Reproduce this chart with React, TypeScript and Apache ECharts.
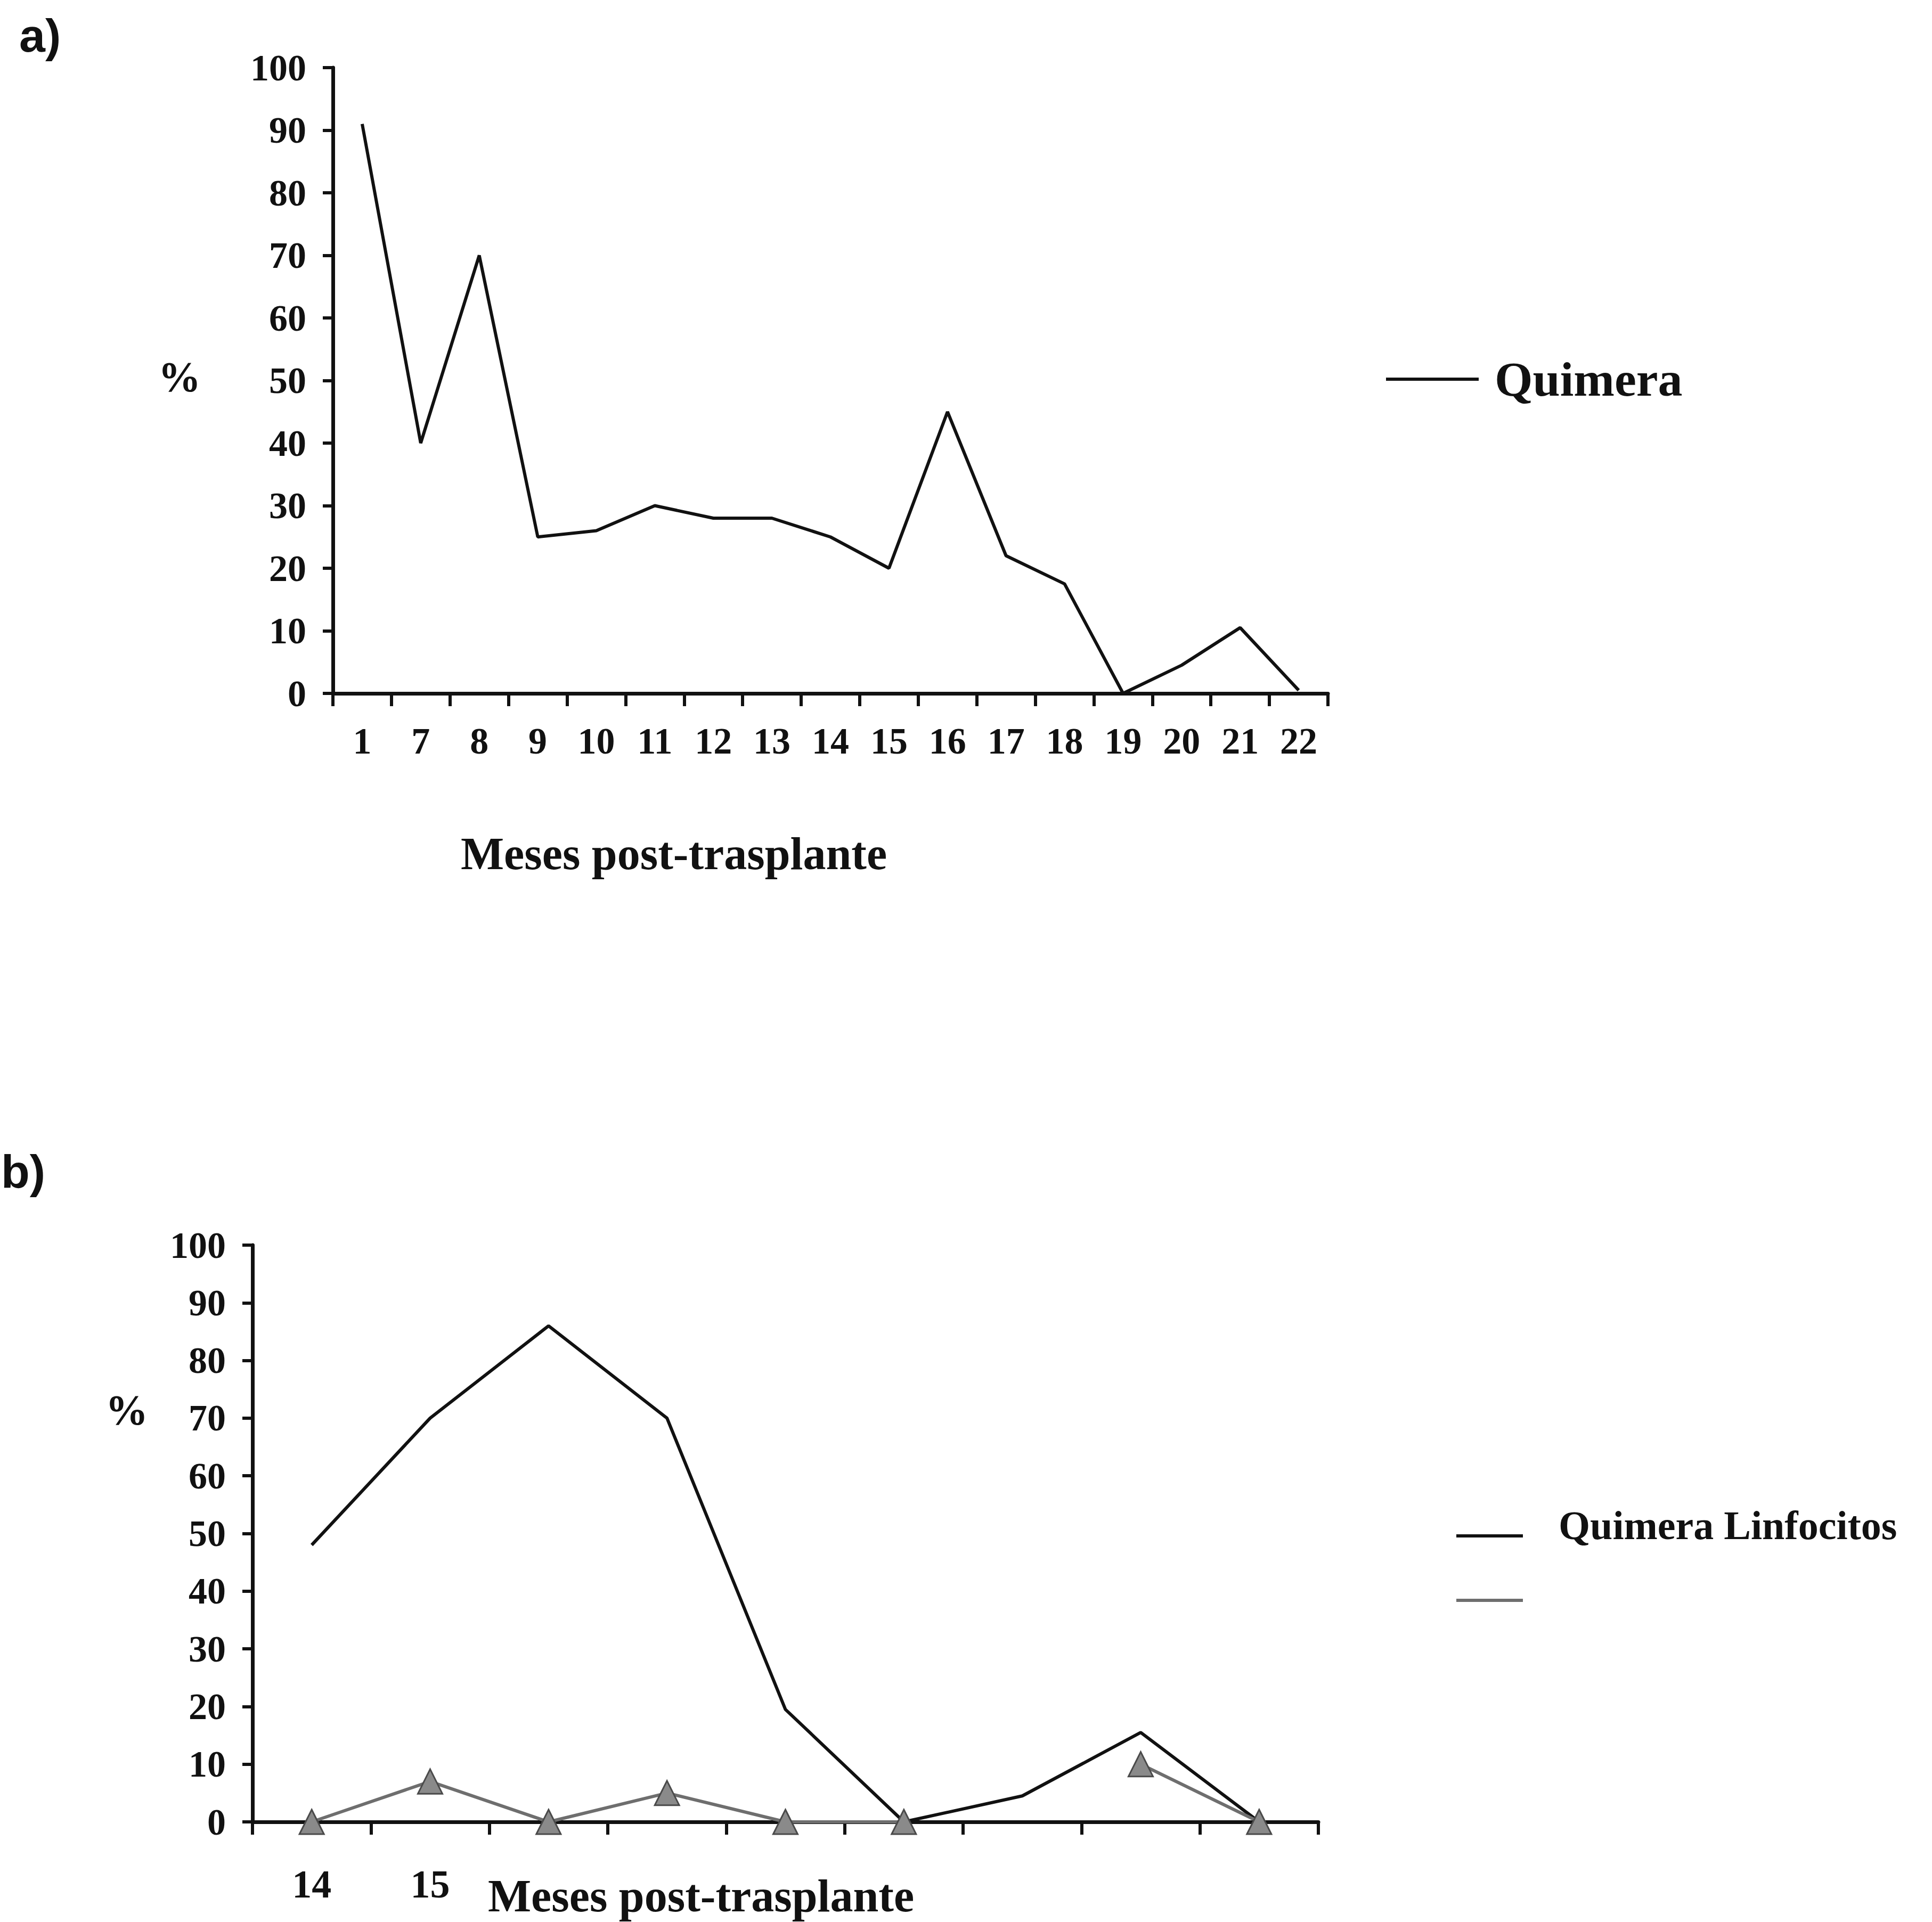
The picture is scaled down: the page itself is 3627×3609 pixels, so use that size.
import React, { useEffect, useRef } from "react";
import * as echarts from "echarts";

// ---- Data: chart a) ----
const monthsA = ["1", "7", "8", "9", "10", "11", "12", "13", "14", "15", "16", "17", "18", "19", "20", "21", "22"];
const quimeraA = [91, 40, 70, 25, 26, 30, 28, 28, 25, 20, 45, 22, 17.5, 0, 4.5, 10.5, 0.5];

// ---- Data: chart b) ----
const monthsB = ["14", "15", "", "", "", "", "", "", ""];
const quimeraLinfocitos = [48, 70, 86, 70, 19.5, 0, 4.5, 15.5, 0];
const secondSeries = [0, 7, 0, 5, 0, 0, null, 10, 0];

const yTicks = [0, 100, 10]; // min, max, interval

const SERIF = "'Liberation Serif', 'Times New Roman', serif";
const SANS = "'Liberation Sans', Arial, sans-serif";
const INK = "#111111";
const GRAY_LINE = "#6e6e6e";

export default function App() {
  const ref = useRef<HTMLDivElement>(null);

  useEffect(() => {
    if (!ref.current) return;
    const chart = echarts.init(ref.current, undefined, { renderer: "svg" });

    const tickLabel = {
      fontFamily: SERIF,
      fontWeight: "bold" as const,
      fontSize: 70,
      color: INK,
    };

    const axisLine = { show: true, lineStyle: { color: INK, width: 7 } };
    const axisTick = { show: true, lineStyle: { color: INK, width: 6 } };

    chart.setOption({
      animation: false,
      backgroundColor: "#ffffff",
      grid: [
        { left: 625, top: 127, width: 1868, height: 1175 },
        { left: 474, top: 2338, width: 2001, height: 1083 },
      ],
      xAxis: [
        {
          gridIndex: 0,
          type: "category",
          data: monthsA,
          boundaryGap: true,
          axisLine,
          axisTick: { ...axisTick, length: 24 },
          axisLabel: { ...tickLabel, margin: 54, interval: 0 },
          splitLine: { show: false },
        },
        {
          gridIndex: 1,
          type: "category",
          data: monthsB,
          boundaryGap: true,
          axisLine,
          axisTick: { ...axisTick, length: 24 },
          axisLabel: { ...tickLabel, fontSize: 74, margin: 80, interval: 0 },
          splitLine: { show: false },
        },
      ],
      yAxis: [
        {
          gridIndex: 0,
          type: "value",
          min: yTicks[0],
          max: yTicks[1],
          interval: yTicks[2],
          axisLine,
          axisTick: { ...axisTick, length: 19 },
          axisLabel: { ...tickLabel, margin: 50 },
          splitLine: { show: false },
        },
        {
          gridIndex: 1,
          type: "value",
          min: yTicks[0],
          max: yTicks[1],
          interval: yTicks[2],
          axisLine,
          axisTick: { ...axisTick, length: 19 },
          axisLabel: { ...tickLabel, margin: 50 },
          splitLine: { show: false },
        },
      ],
      series: [
        {
          name: "Quimera",
          type: "line",
          xAxisIndex: 0,
          yAxisIndex: 0,
          data: quimeraA,
          symbol: "none",
          lineStyle: { color: INK, width: 6 },
        },
        {
          name: "Quimera Linfocitos",
          type: "line",
          xAxisIndex: 1,
          yAxisIndex: 1,
          data: quimeraLinfocitos,
          symbol: "none",
          lineStyle: { color: INK, width: 6 },
        },
        {
          name: "Serie 2",
          type: "line",
          xAxisIndex: 1,
          yAxisIndex: 1,
          data: secondSeries,
          connectNulls: false,
          symbol: "triangle",
          symbolSize: [46, 46],
          itemStyle: { color: "#8a8a8a", borderColor: "#4a4a4a", borderWidth: 3 },
          lineStyle: { color: GRAY_LINE, width: 6 },
          z: 3,
        },
      ],
      graphic: [
        // panel labels
        {
          type: "text",
          left: 36,
          top: 22,
          style: { text: "a)", fontFamily: SANS, fontWeight: "bold", fontSize: 88, fill: INK },
        },
        {
          type: "text",
          left: 2,
          top: 2155,
          style: { text: "b)", fontFamily: SANS, fontWeight: "bold", fontSize: 88, fill: INK },
        },
        // y-axis names
        {
          type: "text",
          x: 337,
          y: 708,
          style: {
            text: "%",
            fontFamily: SERIF,
            fontWeight: "bold",
            fontSize: 80,
            fill: INK,
            align: "center",
            verticalAlign: "middle",
          },
        },
        {
          type: "text",
          x: 238,
          y: 2648,
          style: {
            text: "%",
            fontFamily: SERIF,
            fontWeight: "bold",
            fontSize: 80,
            fill: INK,
            align: "center",
            verticalAlign: "middle",
          },
        },
        // x-axis names
        {
          type: "text",
          x: 1265,
          y: 1603,
          style: {
            text: "Meses post-trasplante",
            fontFamily: SERIF,
            fontWeight: "bold",
            fontSize: 86,
            fill: INK,
            align: "center",
            verticalAlign: "middle",
          },
        },
        {
          type: "text",
          x: 1316,
          y: 3560,
          style: {
            text: "Meses post-trasplante",
            fontFamily: SERIF,
            fontWeight: "bold",
            fontSize: 86,
            fill: INK,
            align: "center",
            verticalAlign: "middle",
          },
        },
        // legend a)
        {
          type: "line",
          shape: { x1: 2602, y1: 712, x2: 2776, y2: 712 },
          style: { stroke: INK, lineWidth: 6 },
        },
        {
          type: "text",
          x: 2806,
          y: 712,
          style: {
            text: "Quimera",
            fontFamily: SERIF,
            fontWeight: "bold",
            fontSize: 92,
            fill: INK,
            align: "left",
            verticalAlign: "middle",
          },
        },
        // legend b)
        {
          type: "line",
          shape: { x1: 2734, y1: 2884, x2: 2859, y2: 2884 },
          style: { stroke: INK, lineWidth: 6 },
        },
        {
          type: "text",
          x: 2926,
          y: 2864,
          style: {
            text: "Quimera Linfocitos",
            fontFamily: SERIF,
            fontWeight: "bold",
            fontSize: 76,
            fill: INK,
            align: "left",
            verticalAlign: "middle",
          },
        },
        {
          type: "line",
          shape: { x1: 2734, y1: 3005, x2: 2859, y2: 3005 },
          style: { stroke: GRAY_LINE, lineWidth: 6 },
        },
      ],
    });

    return () => chart.dispose();
  }, []);

  return (
    <div
      ref={ref}
      style={{ position: "absolute", left: 0, top: 0, width: 3627, height: 3609, background: "#fff" }}
    />
  );
}
